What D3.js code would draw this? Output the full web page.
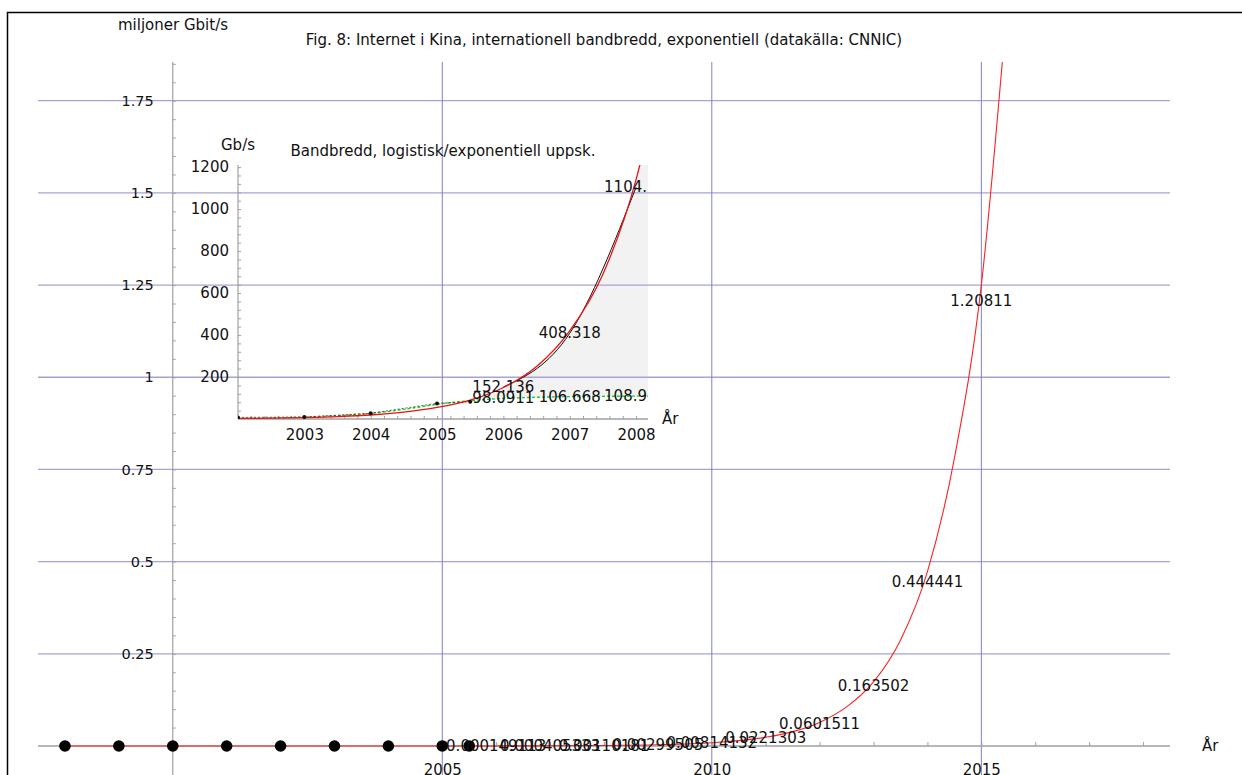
<!DOCTYPE html>
<html>
<head>
<meta charset="utf-8">
<script src="https://cdn.jsdelivr.net/npm/d3@7"></script>
<style>
  html, body { margin: 0; padding: 0; background: #fff; overflow: hidden; }
  svg { display: block; font-family: "DejaVu Sans", sans-serif; }
  text { fill: #111; }
</style>
</head>
<body>
<svg id="chart" width="1242" height="775"></svg>
<script>
// ---------- main chart data (millions of Gbit/s) ----------
const mainTitle = "Fig. 8: Internet i Kina, internationell bandbredd, exponentiell (datakälla: CNNIC)";
const mainYUnit = "miljoner Gbit/s";
const mainXUnit = "År";
const mainYTicks = [0.25, 0.5, 0.75, 1, 1.25, 1.5, 1.75];
const mainYTickLabels = ["0.25", "0.5", "0.75", "1", "1.25", "1.5", "1.75"];
const mainXTicks = [2005, 2010, 2015];
const mainXTickLabels = ["2005", "2010", "2015"];

const dotYears  = [1998, 1999, 2000, 2001, 2002, 2003, 2004, 2005, 2005.5];
const dotValues = [0.0000001, 0.0000001, 0.0000004, 0.0000028, 0.0000076, 0.0000094, 0.0000272, 0.0000744, 0.0000826];

const curveYears  = [1998, 2000, 2002, 2004, 2005, 2006, 2007, 2008, 2009, 2010, 2011, 2011.5, 2012, 2012.5, 2013, 2013.5, 2014, 2014.5, 2015, 2015.45];
const curveValues = [0, 0, 0.000003, 0.00003, 0.00008, 0.0002, 0.0005, 0.0012, 0.0032, 0.0087, 0.0236, 0.039, 0.064, 0.106, 0.174, 0.287, 0.473, 0.78, 1.25, 1.96];

const labelYears  = [2006, 2007, 2008, 2009, 2010, 2011, 2012, 2013, 2014, 2015];
const labelValues = [0.000149113, 0.000405333, 0.00110181, 0.00299505, 0.00814132, 0.0221303, 0.0601511, 0.163502, 0.444441, 1.20811];
const labelTexts  = ["0.000149113", "0.000405333", "0.00110181", "0.00299505", "0.00814132", "0.0221303", "0.0601511", "0.163502", "0.444441", "1.20811"];

// ---------- inset data (Gb/s) ----------
const insetTitle = "Bandbredd, logistisk/exponentiell uppsk.";
const insetYUnit = "Gb/s";
const insetXUnit = "År";
const insetYTicks = [200, 400, 600, 800, 1000, 1200];
const insetXTicks = [2003, 2004, 2005, 2006, 2007, 2008];

const insetDataYears  = [2002, 2003, 2004, 2005, 2005.5];
const insetDataValues = [7.6, 9.4, 27.2, 74.4, 82.6];

const fitYears  = [2002, 2002.5, 2003, 2003.5, 2004, 2004.5, 2005, 2005.5, 2006, 2006.5, 2007, 2007.5, 2008, 2008.18];
const expValues = [2.5, 4, 7, 11.5, 19, 33, 55, 90, 150, 250, 420, 690, 1140, 1370];
const logValues = [2, 4, 9, 16, 27, 46, 70, 87, 98.1, 103.5, 106.7, 108, 108.9, 109.2];

const projYears  = [2006, 2007, 2008];
const projValues = [152.136, 408.318, 1104];

const insetLabelTexts  = ["152.136", "98.0911", "408.318", "106.668", "1104.", "108.9"];
const insetLabelYears  = [2006, 2006, 2007, 2007, 2008, 2008];
const insetLabelValues = [152.136, 98.0911, 408.318, 106.668, 1104, 108.9];
const insetLabelShift  = [0, 0, 0, 0, -10.5, -10.5];

// ---------- setup ----------
const svg = d3.select("#chart");
const gridH = "#a4a4d6", gridV = "#7f7fc8", axisC = "#a0a0a0";

const x = d3.scaleLinear().domain([1997.5, 2018.5]).range([38, 1170]);
const y = d3.scaleLinear().domain([0, 1.855]).range([746, 62]);

const xi = d3.scaleLinear().domain([2002, 2008.18]).range([238, 648]);
const yi = d3.scaleLinear().domain([0, 1210]).range([419, 165]);

// frame (left + top visible)
svg.append("rect").attr("x", 7.5).attr("y", 12.5).attr("width", 1300).attr("height", 900)
  .attr("fill", "none").attr("stroke", "#000").attr("stroke-width", 1.5);

// clips
svg.append("clipPath").attr("id", "insetClip").append("rect")
  .attr("x", xi.range()[0]).attr("y", yi.range()[1])
  .attr("width", xi.range()[1] - xi.range()[0]).attr("height", yi.range()[0] - yi.range()[1]);
svg.append("clipPath").attr("id", "mainClip").append("rect")
  .attr("x", x.range()[0]).attr("y", y.range()[1])
  .attr("width", x.range()[1] - x.range()[0]).attr("height", 775 - y.range()[1]);

// ---------- inset shaded area between curves ----------
const fitRows = fitYears.map((yr, i) => ({yr, e: expValues[i], l: logValues[i]}));
const shadeRows = fitRows.filter(d => d.e >= d.l && d.yr >= 2005.4);
shadeRows.unshift({yr: 2005.4, e: 84, l: 84});
svg.append("path").attr("clip-path", "url(#insetClip)")
  .attr("d", d3.area().curve(d3.curveMonotoneX)
    .x(d => xi(d.yr)).y0(d => yi(d.l)).y1(d => yi(d.e))(shadeRows))
  .attr("fill", "#f2f2f2");

// ---------- main gridlines ----------
svg.append("g").selectAll("line").data(mainYTicks).join("line")
  .attr("x1", x.range()[0]).attr("x2", x.range()[1])
  .attr("y1", d => y(d)).attr("y2", d => y(d))
  .attr("stroke", gridH).attr("stroke-width", 1.3);
svg.append("g").selectAll("line").data(mainXTicks).join("line")
  .attr("x1", d => x(d)).attr("x2", d => x(d))
  .attr("y1", y.range()[1]).attr("y2", 775)
  .attr("stroke", gridV).attr("stroke-width", 1);

// ---------- main axes ----------
svg.append("line").attr("x1", x(2000)).attr("x2", x(2000)).attr("y1", y.range()[1]).attr("y2", 775)
  .attr("stroke", axisC).attr("stroke-width", 1.2);
svg.append("line").attr("x1", x.range()[0]).attr("x2", x.range()[1]).attr("y1", y(0)).attr("y2", y(0))
  .attr("stroke", axisC).attr("stroke-width", 1.5);

const yMinor = d3.range(0.05, 1.851, 0.05);
svg.append("g").attr("transform", `translate(${x(2000)},0)`)
  .call(d3.axisRight(y).tickValues(yMinor).tickSize(3).tickFormat(""))
  .call(g => g.select(".domain").remove())
  .call(g => g.selectAll("line").attr("stroke", axisC));
svg.append("g").attr("transform", `translate(${x(2000)},0)`)
  .call(d3.axisLeft(y).tickValues(mainYTicks).tickSize(0).tickPadding(19)
    .tickFormat((d, i) => mainYTickLabels[i]))
  .call(g => g.select(".domain").remove())
  .call(g => g.selectAll("text").attr("font-size", 14.5).attr("font-family", "DejaVu Sans").attr("fill", "#111"));

const xMinor = d3.range(1998, 2019, 1);
svg.append("g").attr("transform", `translate(0,${y(0)})`)
  .call(d3.axisTop(x).tickValues(xMinor).tickSize(4).tickFormat(""))
  .call(g => g.select(".domain").remove())
  .call(g => g.selectAll("line").attr("stroke", axisC));
svg.append("g").attr("transform", `translate(0,${y(0)})`)
  .call(d3.axisBottom(x).tickValues(mainXTicks).tickSize(0).tickPadding(18)
    .tickFormat((d, i) => mainXTickLabels[i]))
  .call(g => g.select(".domain").remove())
  .call(g => g.selectAll("text").attr("font-size", 15).attr("font-family", "DejaVu Sans").attr("fill", "#111"));

// ---------- inset axes ----------
svg.append("line").attr("x1", xi.range()[0]).attr("x2", xi.range()[0]).attr("y1", yi.range()[1]).attr("y2", yi.range()[0])
  .attr("stroke", axisC).attr("stroke-width", 1.2);
svg.append("line").attr("x1", xi.range()[0]).attr("x2", xi.range()[1]).attr("y1", yi(0)).attr("y2", yi(0))
  .attr("stroke", axisC).attr("stroke-width", 1.5);
svg.append("g").attr("transform", `translate(${xi.range()[0]},0)`)
  .call(d3.axisRight(yi).tickValues(d3.range(40, 1201, 40)).tickSize(3).tickFormat(""))
  .call(g => g.select(".domain").remove())
  .call(g => g.selectAll("line").attr("stroke", axisC));
svg.append("g").attr("transform", `translate(${xi.range()[0]},0)`)
  .call(d3.axisLeft(yi).tickValues(insetYTicks).tickSize(0).tickPadding(9).tickFormat(d3.format("d")))
  .call(g => g.select(".domain").remove())
  .call(g => g.selectAll("text").attr("font-size", 15).attr("font-family", "DejaVu Sans").attr("fill", "#111"));
svg.append("g").attr("transform", `translate(0,${yi(0)})`)
  .call(d3.axisTop(xi).tickValues(d3.range(2002.2, 2008.1, 0.2)).tickSize(3).tickFormat(""))
  .call(g => g.select(".domain").remove())
  .call(g => g.selectAll("line").attr("stroke", axisC));
svg.append("g").attr("transform", `translate(0,${yi(0)})`)
  .call(d3.axisBottom(xi).tickValues(insetXTicks).tickSize(0).tickPadding(10).tickFormat(d3.format("d")))
  .call(g => g.select(".domain").remove())
  .call(g => g.selectAll("text").attr("font-size", 15).attr("font-family", "DejaVu Sans").attr("fill", "#111"));

// ---------- inset lines ----------
const ig = svg.append("g").attr("clip-path", "url(#insetClip)");
ig.append("path")
  .attr("d", d3.line().curve(d3.curveMonotoneX).x((d, i) => xi(fitYears[i])).y(d => yi(d))(logValues))
  .attr("fill", "none").attr("stroke", "#22cc22").attr("stroke-width", 1.4).attr("stroke-dasharray", "3,2");
ig.append("path")
  .attr("d", d3.line().x((d, i) => xi(insetDataYears[i])).y(d => yi(d))(insetDataValues))
  .attr("fill", "none").attr("stroke", "#222").attr("stroke-width", 0.7).attr("stroke-dasharray", "2,2");
ig.append("path")
  .attr("d", d3.line().curve(d3.curveMonotoneX).x((d, i) => xi(projYears[i])).y(d => yi(d))(projValues))
  .attr("fill", "none").attr("stroke", "#111").attr("stroke-width", 1);
ig.append("path")
  .attr("d", d3.line().curve(d3.curveMonotoneX).x((d, i) => xi(fitYears[i])).y(d => yi(d))(expValues))
  .attr("fill", "none").attr("stroke", "#ee1111").attr("stroke-width", 1.3);
ig.append("g").selectAll("circle").data(insetDataValues).join("circle")
  .attr("cx", (d, i) => xi(insetDataYears[i])).attr("cy", d => yi(d)).attr("r", 2).attr("fill", "#111");
ig.append("g").selectAll("text").data(insetLabelTexts).join("text")
  .attr("x", (d, i) => xi(insetLabelYears[i]) + insetLabelShift[i])
  .attr("y", (d, i) => yi(insetLabelValues[i]))
  .attr("text-anchor", "middle").attr("dominant-baseline", "central")
  .attr("font-size", 15).text(d => d);

// inset titles
svg.append("text").attr("x", xi.range()[0]).attr("y", 145).attr("text-anchor", "middle")
  .attr("dominant-baseline", "central").attr("font-size", 15).text(insetYUnit);
svg.append("text").attr("x", 443).attr("y", 151).attr("text-anchor", "middle")
  .attr("dominant-baseline", "central").attr("font-size", 15).text(insetTitle);
svg.append("text").attr("x", xi.range()[1] + 14).attr("y", yi(0)).attr("text-anchor", "start")
  .attr("dominant-baseline", "central").attr("font-size", 15).text(insetXUnit);

// ---------- main curve, dots, labels ----------
svg.append("path").attr("clip-path", "url(#mainClip)")
  .attr("d", d3.line().curve(d3.curveMonotoneX).x((d, i) => x(curveYears[i])).y(d => y(d))(curveValues))
  .attr("fill", "none").attr("stroke", "#ff2020").attr("stroke-width", 1.1);

svg.append("g").selectAll("circle").data(dotValues).join("circle")
  .attr("cx", (d, i) => x(dotYears[i])).attr("cy", d => y(d)).attr("r", 5.8).attr("fill", "#000");

svg.append("g").selectAll("text").data(labelTexts).join("text")
  .attr("x", (d, i) => x(labelYears[i])).attr("y", (d, i) => y(labelValues[i]))
  .attr("text-anchor", "middle").attr("dominant-baseline", "central")
  .attr("font-size", 15).text(d => d);

// main titles
svg.append("text").attr("x", 173).attr("y", 25).attr("text-anchor", "middle")
  .attr("dominant-baseline", "central").attr("font-size", 15).text(mainYUnit);
svg.append("text").attr("x", 604).attr("y", 40).attr("text-anchor", "middle")
  .attr("dominant-baseline", "central").attr("font-size", 15).text(mainTitle);
svg.append("text").attr("x", x.range()[1] + 32).attr("y", y(0)).attr("text-anchor", "start")
  .attr("dominant-baseline", "central").attr("font-size", 15).text(mainXUnit);
</script>
</body>
</html>
